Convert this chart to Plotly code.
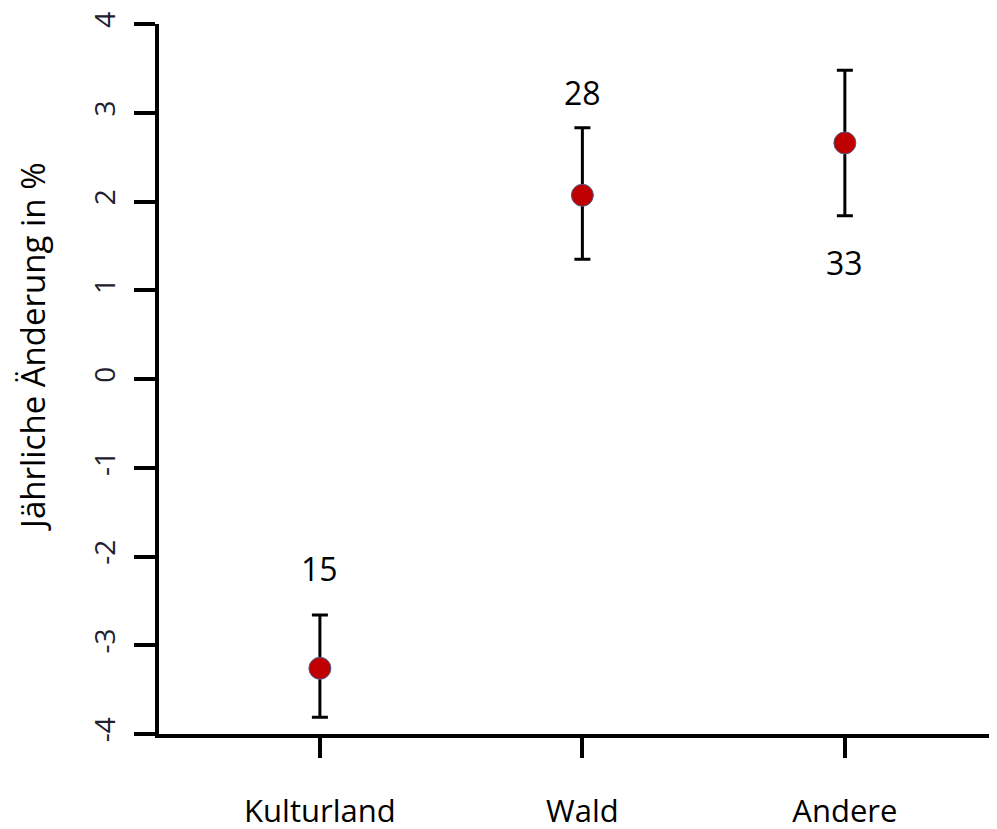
import plotly.graph_objects as go

categories = ["Kulturland", "Wald", "Andere"]
mean_change = [-3.26, 2.07, 2.66]
ci_lower = [-3.81, 1.35, 1.84]
ci_upper = [-2.66, 2.83, 3.48]
sample_sizes = ["15", "28", "33"]
count_label_y = [-2.13, 3.23, 1.31]
y_ticks = [-4, -3, -2, -1, 0, 1, 2, 3, 4]

FONT = "Open Sans"

err_plus = [u - m for u, m in zip(ci_upper, mean_change)]
err_minus = [m - l for m, l in zip(mean_change, ci_lower)]

fig = go.Figure()
fig.add_trace(go.Scatter(
    x=categories, y=mean_change, mode="markers",
    marker=dict(size=22, color="#c00000", line=dict(color="#4a5f8a", width=1)),
    error_y=dict(type="data", symmetric=False, array=err_plus, arrayminus=err_minus,
                 color="black", thickness=3, width=8),
    showlegend=False,
))

for c, t, ly in zip(categories, sample_sizes, count_label_y):
    fig.add_annotation(x=c, y=ly, text=t, showarrow=False,
                       font=dict(family=FONT, size=32, color="black"),
                       xanchor="center", yanchor="middle")

fig.add_annotation(x=-0.152, y=0.545, xref="paper", yref="paper",
                   text="Jährliche Änderung in %", textangle=-90, showarrow=False,
                   font=dict(family=FONT, size=33, color="black"),
                   xanchor="center", yanchor="middle")

fig.update_xaxes(
    type="category", range=[-0.613, 2.572], automargin=False,
    showline=True, linecolor="black", linewidth=4,
    ticks="outside", ticklen=20, tickwidth=4, tickcolor="black",
    showgrid=False, zeroline=False,
    tickfont=dict(family=FONT, size=31, color="black"),
    ticklabelstandoff=27,
)
fig.update_yaxes(
    range=[-4, 4], tickvals=y_ticks, ticktext=[str(v) for v in y_ticks],
    automargin=False,
    showline=True, linecolor="black", linewidth=4,
    ticks="outside", ticklen=21, tickwidth=4, tickcolor="black",
    showgrid=False, zeroline=False, tickangle=-90,
    tickfont=dict(family=FONT, size=28, color="#202030"),
    ticklabelstandoff=8,
)

fig.update_layout(
    width=989, height=821,
    margin=dict(l=151, r=2, t=16, b=95),
    plot_bgcolor="white", paper_bgcolor="white",
)

fig.write_html("out.html")
